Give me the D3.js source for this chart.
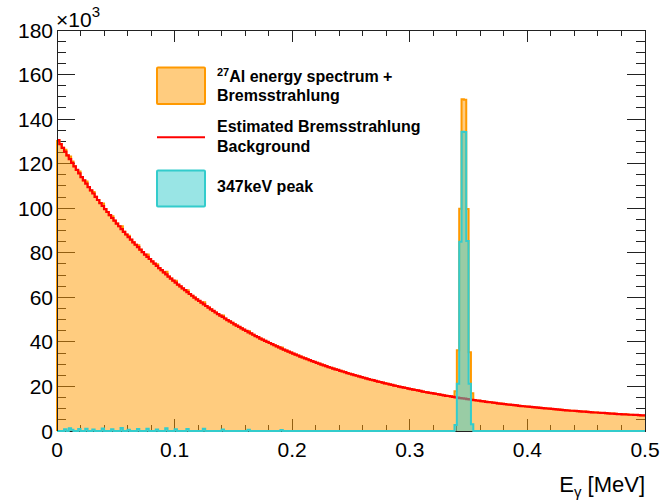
<!DOCTYPE html>
<html>
<head>
<meta charset="utf-8">
<script src="https://cdn.jsdelivr.net/npm/d3@7"></script>
<style>
  html, body { margin: 0; padding: 0; background: #fff; }
  svg { display: block; }
  text { font-family: "Liberation Sans", Arial, Helvetica, sans-serif; }
</style>
</head>
<body>
<svg id="chart" width="665" height="502"></svg>
<script>
// ---------------- data (counts in units of 10^3 per 2 keV bin) ----------------
const xMin = 0, xMax = 0.5, binWidth = 0.002;

// Estimated Bremsstrahlung background (red), 250 bins from 0 to 0.5 MeV
const background = [
  130.6,128.8,127.1,125.4,123.7,122.0,120.4,118.8,117.2,115.6,
  114.0,112.5,111.0,109.5,108.0,106.6,105.1,103.7,102.3,101.0,
  99.6,98.3,96.9,95.6,94.4,93.1,91.9,90.6,89.4,88.2,
  87.0,85.9,84.7,83.6,82.5,81.4,80.3,79.2,78.2,77.2,
  76.1,75.1,74.1,73.1,72.2,71.2,70.3,69.3,68.4,67.5,
  66.6,65.7,64.9,64.0,63.2,62.3,61.5,60.7,59.9,59.1,
  58.4,57.6,56.8,56.1,55.4,54.6,53.9,53.2,52.5,51.8,
  51.2,50.5,49.8,49.2,48.6,47.9,47.3,46.7,46.1,45.5,
  44.9,44.3,43.8,43.2,42.6,42.1,41.5,41.0,40.5,40.0,
  39.5,39.0,38.5,38.0,37.5,37.0,36.5,36.1,35.6,35.2,
  34.7,34.3,33.9,33.4,33.0,32.6,32.2,31.8,31.4,31.0,
  30.6,30.2,29.8,29.5,29.1,28.7,28.4,28.0,27.7,27.4,
  27.0,26.7,26.4,26.0,25.7,25.4,25.1,24.8,24.5,24.2,
  23.9,23.6,23.3,23.0,22.8,22.5,22.2,22.0,21.7,21.4,
  21.2,20.9,20.7,20.4,20.2,19.9,19.7,19.5,19.3,19.0,
  18.8,18.6,18.4,18.2,18.0,17.7,17.5,17.3,17.1,17.0,
  16.8,16.6,16.4,16.2,16.0,15.8,15.7,15.5,15.3,15.1,
  15.0,14.8,14.6,14.5,14.3,14.2,14.0,13.9,13.7,13.6,
  13.4,13.3,13.1,13.0,12.9,12.7,12.6,12.4,12.3,12.2,
  12.1,11.9,11.8,11.7,11.6,11.5,11.3,11.2,11.1,11.0,
  10.9,10.8,10.7,10.6,10.5,10.4,10.3,10.2,10.1,10.0,
  9.9,9.8,9.7,9.6,9.5,9.4,9.3,9.2,9.1,9.1,
  9.0,8.9,8.8,8.7,8.7,8.6,8.5,8.4,8.3,8.3,
  8.2,8.1,8.1,8.0,7.9,7.8,7.8,7.7,7.6,7.6,
  7.5,7.5,7.4,7.3,7.3,7.2,7.2,7.1,7.0,7.0
];

// 347 keV peak (cyan): bins with non-zero content (bin index, content)
const peakBins   = [3,   5,   6,   9,   12,  15,  19,  23,  27,  30,  34,  38,  42,  46,  50,  55,  62,  70,  81,  95,
                    169, 170,  171,  172,   173,   174,  175,  176];
const peakValues = [0.8, 1.2, 0.6, 0.9, 1.0, 0.7, 1.1, 0.8, 1.3, 0.6, 0.9, 1.0, 0.7, 1.2, 0.8, 0.9, 1.0, 0.7, 0.6, 0.5,
                    2.7, 21.2, 85.0, 134.3, 134.2, 85.3, 21.2, 3.0];

const yTicksMajor = [0, 20, 40, 60, 80, 100, 120, 140, 160, 180];
const xTicksMajor = [0, 0.1, 0.2, 0.3, 0.4, 0.5];
const xTickLabels = ["0", "0.1", "0.2", "0.3", "0.4", "0.5"];

const legendLabels = ["energy spectrum +", "Bremsstrahlung", "Estimated Bremsstrahlung", "Background", "347keV peak"];

// ---------------- derived series ----------------
const nBins = background.length;
const peak = new Array(nBins).fill(0);
peakBins.forEach((b, i) => { peak[b] = peakValues[i]; });
const total = background.map((v, i) => v + peak[i]);

// ---------------- layout ----------------
const L = 57, R = 645, T = 30, B = 431;
const svg = d3.select("#chart");
const x = d3.scaleLinear().domain([xMin, xMax]).range([L, R]);
const y = d3.scaleLinear().domain([0, 180]).range([B, T]);

const ORANGE = "#ff9900", CYAN = "#33cccc", RED = "#ff0000";
const FILL_OP = 0.5;

const defs = svg.append("defs");
defs.append("clipPath").attr("id", "plotClip")
  .append("rect").attr("x", L - 1).attr("y", T).attr("width", R - L + 2).attr("height", B - T + 2);

// ---------------- axes (ticks drawn first, under the fills) ----------------
const axisColor = "#222";
const gAx = svg.append("g");

const yMinor = d3.range(0, 181, 5);
yMinor.forEach(v => {
  const major = v % 20 === 0;
  const len = major ? 18 : 9;
  gAx.append("line").attr("x1", L).attr("x2", L + len).attr("y1", y(v)).attr("y2", y(v))
    .attr("stroke", axisColor).attr("stroke-width", 1).attr("shape-rendering", "crispEdges");
  gAx.append("line").attr("x1", R).attr("x2", R - len).attr("y1", y(v)).attr("y2", y(v))
    .attr("stroke", axisColor).attr("stroke-width", 1).attr("shape-rendering", "crispEdges");
});
const xMinor = d3.range(0, 26).map(i => i * 0.02);
xMinor.forEach((v, i) => {
  const major = i % 5 === 0;
  const len = major ? 12 : 6;
  gAx.append("line").attr("x1", x(v)).attr("x2", x(v)).attr("y1", B).attr("y2", B - len)
    .attr("stroke", axisColor).attr("stroke-width", 1).attr("shape-rendering", "crispEdges");
  gAx.append("line").attr("x1", x(v)).attr("x2", x(v)).attr("y1", T).attr("y2", T + len)
    .attr("stroke", axisColor).attr("stroke-width", 1).attr("shape-rendering", "crispEdges");
});
gAx.append("rect").attr("x", L).attr("y", T).attr("width", R - L).attr("height", B - T)
  .attr("fill", "none").attr("stroke", axisColor).attr("stroke-width", 1).attr("shape-rendering", "crispEdges");

// ---------------- histograms ----------------
const edges = d3.range(nBins + 1).map(i => xMin + i * binWidth);
function stepPts(vals) {
  const pts = vals.map((v, i) => [edges[i], v]);
  pts.push([edges[nBins], vals[nBins - 1]]);
  return pts;
}
const line = d3.line().x(d => x(d[0])).y(d => y(d[1])).curve(d3.curveStepAfter);
const area = d3.area().x(d => x(d[0])).y0(y(0)).y1(d => y(d[1])).curve(d3.curveStepAfter);

const gH = svg.append("g").attr("clip-path", "url(#plotClip)");

// total (orange)
gH.append("path").attr("d", area(stepPts(total))).attr("fill", ORANGE).attr("fill-opacity", FILL_OP);
gH.append("path").attr("d", line(stepPts(total)))
  .attr("fill", "none").attr("stroke", ORANGE).attr("stroke-width", 2);
gH.append("line").attr("x1", x(xMin)).attr("x2", x(xMin)).attr("y1", y(0)).attr("y2", y(total[0]))
  .attr("stroke", ORANGE).attr("stroke-width", 2);

// background (red)
gH.append("path").attr("d", line(stepPts(background)))
  .attr("fill", "none").attr("stroke", RED).attr("stroke-width", 2.2);

// peak (cyan)
gH.append("path").attr("d", area(stepPts(peak))).attr("fill", CYAN).attr("fill-opacity", FILL_OP);
gH.append("path").attr("d", line(stepPts(peak)))
  .attr("fill", "none").attr("stroke", CYAN).attr("stroke-width", 2);

// left frame line on top
svg.append("line").attr("x1", L).attr("x2", L).attr("y1", T).attr("y2", B)
  .attr("stroke", axisColor).attr("stroke-width", 1).attr("shape-rendering", "crispEdges");

// ---------------- labels ----------------
const fs = 21;
yTicksMajor.forEach(v => {
  svg.append("text").attr("x", L - 4).attr("y", y(v) + 7.5).attr("text-anchor", "end")
    .attr("font-size", fs).attr("fill", "#000").text(v);
});
xTicksMajor.forEach((v, i) => {
  svg.append("text").attr("x", x(v)).attr("y", B + 26).attr("text-anchor", "middle")
    .attr("font-size", fs).attr("fill", "#000").text(xTickLabels[i]);
});
// x10^3
const mult = svg.append("text").attr("x", L - 1).attr("y", 27).attr("font-size", fs).attr("fill", "#000");
mult.append("tspan").text("\u00d710");
mult.append("tspan").attr("dy", -10).attr("font-size", 15).text("3");

// x title
const xt = svg.append("text").attr("x", R).attr("y", 492).attr("text-anchor", "end")
  .attr("font-size", 22).attr("fill", "#000");
xt.append("tspan").text("E");
xt.append("tspan").attr("dy", 5).attr("font-size", 15).text("\u03b3");
xt.append("tspan").attr("dy", -5).text(" [MeV]");

// ---------------- legend ----------------
const lg = svg.append("g").attr("font-weight", "bold").attr("font-size", 16).attr("fill", "#000");
const boxX = 157, boxW = 48, txtX = 217;
lg.append("rect").attr("x", boxX).attr("y", 67.5).attr("width", boxW).attr("height", 36.5)
  .attr("fill", ORANGE).attr("fill-opacity", FILL_OP).attr("stroke", ORANGE).attr("stroke-width", 2).attr("rx", 1);
const t1 = lg.append("text").attr("x", txtX).attr("y", 82);
t1.append("tspan").attr("font-size", 11).attr("dy", -6).text("27");
t1.append("tspan").attr("dy", 6).text("Al " + legendLabels[0]);
lg.append("text").attr("x", txtX).attr("y", 101).text(legendLabels[1]);

lg.append("line").attr("x1", boxX).attr("x2", boxX + boxW).attr("y1", 137.3).attr("y2", 137.3)
  .attr("stroke", RED).attr("stroke-width", 2);
lg.append("text").attr("x", txtX).attr("y", 132).text(legendLabels[2]);
lg.append("text").attr("x", txtX).attr("y", 152).text(legendLabels[3]);

lg.append("rect").attr("x", boxX).attr("y", 170.5).attr("width", boxW).attr("height", 36)
  .attr("fill", CYAN).attr("fill-opacity", FILL_OP).attr("stroke", CYAN).attr("stroke-width", 2).attr("rx", 1);
lg.append("text").attr("x", txtX).attr("y", 192).text(legendLabels[4]);
</script>
</body>
</html>
